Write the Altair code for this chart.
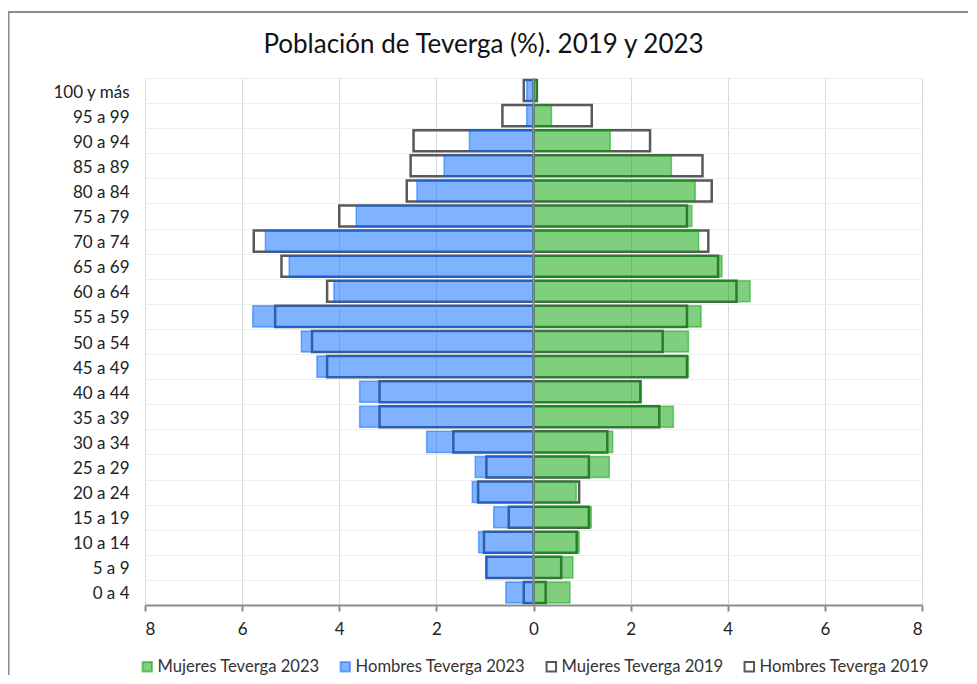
import altair as alt
import pandas as pd

ages = ["100 y más", "95 a 99", "90 a 94", "85 a 89", "80 a 84", "75 a 79", "70 a 74",
        "65 a 69", "60 a 64", "55 a 59", "50 a 54", "45 a 49", "40 a 44", "35 a 39",
        "30 a 34", "25 a 29", "20 a 24", "15 a 19", "10 a 14", "5 a 9", "0 a 4"]

hombres_2023 = [0.14, 0.14, 1.32, 1.84, 2.40, 3.65, 5.52, 5.03, 4.11, 5.78, 4.78,
                4.46, 3.58, 3.58, 2.20, 1.20, 1.26, 0.82, 1.13, 0.97, 0.57]
hombres_2019 = [0.20, 0.64, 2.47, 2.53, 2.61, 4.00, 5.76, 5.19, 4.25, 5.32, 4.56,
                4.25, 3.17, 3.17, 1.65, 0.97, 1.14, 0.51, 1.02, 0.97, 0.20]
mujeres_2023 = [0.07, 0.37, 1.58, 2.84, 3.33, 3.26, 3.40, 3.88, 4.46, 3.45, 3.19,
                3.19, 2.22, 2.88, 1.63, 1.56, 0.88, 1.19, 0.94, 0.81, 0.75]
mujeres_2019 = [0.07, 1.20, 2.40, 3.48, 3.67, 3.16, 3.60, 3.80, 4.18, 3.16, 2.66,
                3.16, 2.20, 2.59, 1.52, 1.14, 0.94, 1.14, 0.89, 0.57, 0.25]

series = ["Mujeres Teverga 2023", "Hombres Teverga 2023",
          "Mujeres Teverga 2019", "Hombres Teverga 2019"]
x_ticks = [-8, -6, -4, -2, 0, 2, 4, 6, 8]

rows = []
for i, a in enumerate(ages):
    rows.append({"edad": a, "serie": series[0], "anio": 2023, "valor": mujeres_2023[i]})
    rows.append({"edad": a, "serie": series[1], "anio": 2023, "valor": -hombres_2023[i]})
    rows.append({"edad": a, "serie": series[2], "anio": 2019, "valor": mujeres_2019[i]})
    rows.append({"edad": a, "serie": series[3], "anio": 2019, "valor": -hombres_2019[i]})
df = pd.DataFrame(rows)

FONT = "Lato"
GRAY = "#595959"
FS = 17

fill_scale = alt.Scale(domain=series, range=["rgba(0,160,0,0.5)", "rgba(0,102,255,0.5)",
                                             "transparent", "transparent"])
stroke_scale = alt.Scale(domain=series, range=["rgba(0,160,0,0.5)", "rgba(0,102,255,0.5)",
                                               GRAY, GRAY])

legend = alt.Legend(title=None, orient="none", legendX=-6, legendY=580,
                    direction="horizontal", columns=4, columnPadding=16,
                    symbolType="square", symbolSize=90, symbolStrokeWidth=2,
                    labelFontSize=16.6, labelFont=FONT, labelColor="#333333",
                    labelOffset=2, labelLimit=400)

x_enc = alt.X("valor:Q", stack=None,
              scale=alt.Scale(domain=[-8, 8], nice=False),
              axis=alt.Axis(values=x_ticks, labelExpr="abs(datum.value)", title=None,
                            grid=True, gridColor="#d9d9d9", gridWidth=1,
                            domainColor="#8c8c8c", domainWidth=2,
                            tickColor="#8c8c8c", tickWidth=2, tickSize=6,
                            labelFontSize=FS, labelFont=FONT, labelColor="#222222",
                            labelPadding=10))
y_enc = alt.Y("edad:N", sort=ages,
              scale=alt.Scale(paddingInner=0, paddingOuter=0),
              axis=alt.Axis(title=None, ticks=False, domain=False, grid=True,
                            gridColor="#eeeeee", tickBand="extent",
                            labelFontSize=FS, labelFont=FONT, labelColor="#222222",
                            labelPadding=16, labelOffset=1.5))

base = alt.Chart(df)

b2019 = base.transform_filter("datum.anio == 2019").mark_bar(
    height={"band": 0.84}, strokeWidth=2.5
).encode(
    x=x_enc, y=y_enc,
    fill=alt.Fill("serie:N", scale=fill_scale, legend=legend),
    stroke=alt.Stroke("serie:N", scale=stroke_scale, legend=legend),
)

b2023 = base.transform_filter("datum.anio == 2023").mark_bar(
    height={"band": 0.84}, strokeWidth=1.5
).encode(
    x=x_enc, y=y_enc,
    fill=alt.Fill("serie:N", scale=fill_scale, legend=legend),
    stroke=alt.Stroke("serie:N", scale=stroke_scale, legend=legend),
)

zero_line = alt.Chart(pd.DataFrame({"v": [0]})).mark_rule(
    color="#8c8c8c", strokeWidth=2
).encode(x="v:Q")

frame_data = alt.Data(values=[{"k": 1}])
frame_left = alt.Chart(frame_data).mark_rule(color="#8c8c8c", strokeWidth=2).encode(
    x=alt.value(-136.5), y=alt.value(-67), y2=alt.value(700))
frame_top = alt.Chart(frame_data).mark_rule(color="#8c8c8c", strokeWidth=2).encode(
    x=alt.value(-137.5), x2=alt.value(900), y=alt.value(-66))

chart = alt.layer(b2019, b2023, zero_line, frame_left, frame_top).properties(
    width=777, height=527,
    title=alt.TitleParams("Población de Teverga (%). 2019 y 2023", fontSize=26,
                          font=FONT, fontWeight="normal", color="#111111",
                          anchor="middle", dx=-50, dy=48, offset=0),
    autosize=alt.AutoSizeParams(type="none"),
    padding={"left": 137, "top": 70, "right": 46, "bottom": 70},
).configure_view(stroke=None)

chart.save("out.html", embed_options={"renderer": "svg", "actions": False})
